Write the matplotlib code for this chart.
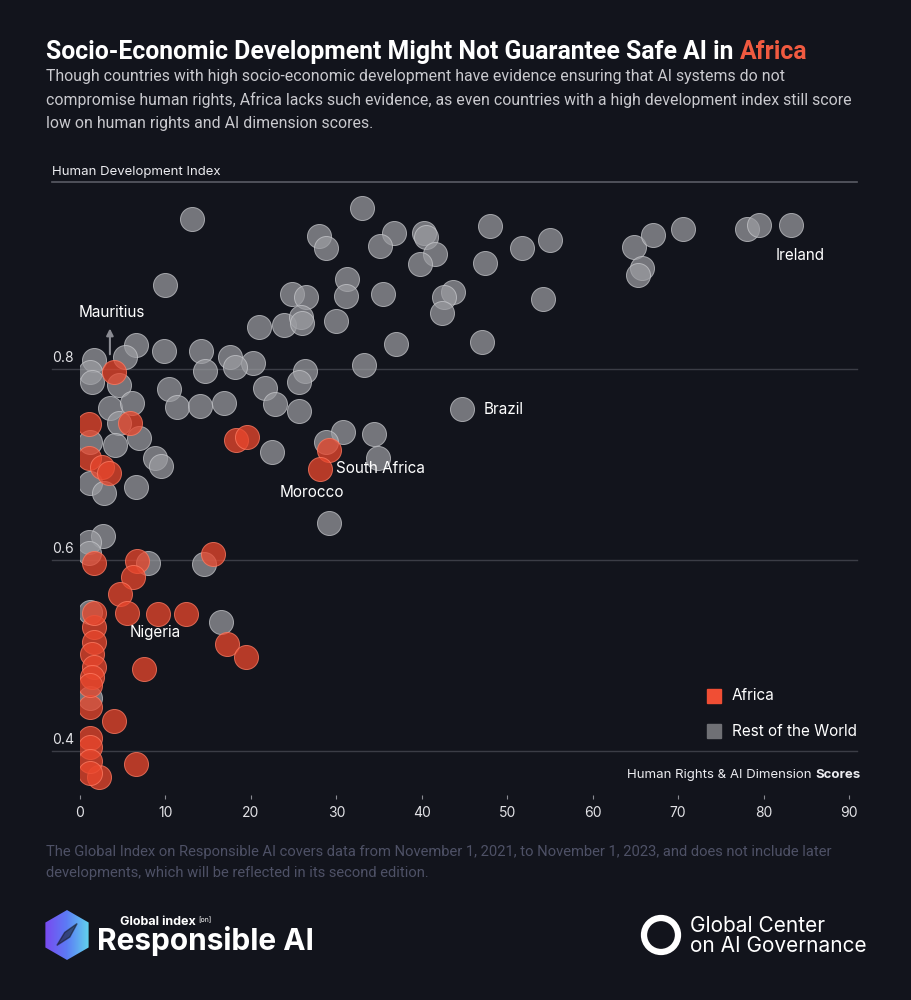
import numpy as np
import matplotlib.pyplot as plt
from matplotlib import transforms
from matplotlib.patches import Rectangle, Polygon, Ellipse
from matplotlib.colors import LinearSegmentedColormap

# x = Human Rights & AI Dimension score, y = Human Development Index
world_x = [13.1, 33.0, 9.9, 28.0, 28.8, 36.7, 35.1, 40.3, 40.5, 41.6,
           39.8, 48.0, 47.4, 31.3, 31.1, 24.8, 26.5, 35.5, 43.7, 42.6,
           42.4, 30.0, 23.9, 25.9, 26.0, 20.9, 37.0, 47.0, 33.2, 26.3,
           25.6, 20.3, 17.5, 18.1, 14.2, 14.6, 9.8, 6.5, 5.3, 1.6,
           1.2, 1.4, 4.6, 10.4, 11.4, 14.1, 16.9, 21.7, 22.8, 25.6,
           44.7, 3.5, 6.1, 4.6, 6.9, 4.1, 1.2, 8.8, 9.5, 1.2,
           2.8, 6.5, 30.8, 34.4, 28.8, 22.5, 34.9, 29.1, 2.7, 1.0,
           1.0, 7.9, 14.5, 16.5, 1.2, 1.2, 51.7, 55.0, 54.2, 64.8,
           67.0, 70.6, 65.8, 65.3, 78.0, 79.5, 83.2]
world_y = [0.956, 0.968, 0.887, 0.939, 0.926, 0.942, 0.928, 0.942, 0.938, 0.920,
           0.909, 0.949, 0.910, 0.894, 0.876, 0.878, 0.875, 0.878, 0.880, 0.875,
           0.858, 0.850, 0.846, 0.854, 0.848, 0.843, 0.826, 0.828, 0.804, 0.797,
           0.786, 0.806, 0.812, 0.802, 0.818, 0.798, 0.818, 0.825, 0.812, 0.809,
           0.796, 0.786, 0.783, 0.779, 0.760, 0.761, 0.764, 0.780, 0.763, 0.756,
           0.758, 0.759, 0.764, 0.743, 0.727, 0.720, 0.723, 0.706, 0.698, 0.680,
           0.670, 0.676, 0.734, 0.732, 0.723, 0.713, 0.707, 0.639, 0.625, 0.619,
           0.607, 0.597, 0.596, 0.535, 0.545, 0.455, 0.926, 0.935, 0.873, 0.927,
           0.940, 0.946, 0.905, 0.898, 0.946, 0.950, 0.950]

africa_x = [4.0, 1.0, 5.8, 1.0, 2.6, 3.4, 18.3, 19.5, 29.1, 28.1,
            1.6, 6.7, 6.2, 4.7, 5.5, 9.1, 12.4, 15.6, 17.2, 19.4,
            7.5, 4.0, 6.5, 2.2, 1.6, 1.6, 1.4, 1.6, 1.4, 1.2,
            1.2, 1.2, 1.2, 1.2, 1.6, 1.2]
africa_y = [0.796, 0.742, 0.743, 0.707, 0.697, 0.691, 0.725, 0.728, 0.715, 0.695,
            0.597, 0.599, 0.582, 0.564, 0.544, 0.543, 0.543, 0.606, 0.512, 0.498,
            0.486, 0.431, 0.386, 0.373, 0.530, 0.514, 0.502, 0.488, 0.477, 0.446,
            0.414, 0.404, 0.390, 0.377, 0.544, 0.469]

names = ['Ireland', 'Brazil', 'South Africa', 'Morocco', 'Nigeria']
name_x = [81.4, 47.2, 30.0, 23.4, 5.8]
name_y = [0.918, 0.757, 0.695, 0.670, 0.524]

x_ticks = [0, 10, 20, 30, 40, 50, 60, 70, 80, 90]
y_grid = [0.4, 0.6, 0.8]

BG = '#12141c'
RED = '#e9472d'
GREY = '#9b9ca1'
COND = ['Roboto', 'DejaVu Sans']
SANS = ['Inter', 'DejaVu Sans']

W, H = 912, 1000
def fx(px):
    return px / W
def fy(py):
    return 1 - py / H

fig = plt.figure(figsize=(9.12, 10), dpi=100, facecolor=BG)
ax = fig.add_axes([fx(80), fy(795), (857 - 80) / W, (795 - 177.4) / H])
ax.set_facecolor(BG)
ax.set_xlim(0.23, 90.93)
ax.set_ylim(0.354, 1.0)
for s in ax.spines.values():
    s.set_visible(False)

# grid lines run past the plot area to the left
trans = transforms.blended_transform_factory(fig.transFigure, ax.transData)
for v in y_grid:
    ax.plot([fx(52), fx(857)], [v, v], transform=trans, color='#3b3d46',
            lw=1, clip_on=False, zorder=1)
    ax.text(fx(52), v + 0.004, '%.1f' % v, transform=trans, ha='left', va='bottom',
            color='#e2e2e6', fontsize=10, family=SANS)
ax.plot([fx(52), fx(857)], [0.995, 0.995], transform=trans, color='#5a5c65',
        lw=1.2, clip_on=False, zorder=1)

ax.scatter(world_x, world_y, s=300, c=GREY, alpha=0.72, edgecolors='#c8c9cd',
           linewidths=0.7, zorder=3)
ax.scatter(africa_x, africa_y, s=300, c=RED, alpha=0.76, edgecolors='#ff7b62',
           linewidths=0.7, zorder=4)

ax.set_xticks(x_ticks)
ax.set_yticks([])
ax.tick_params(axis='x', length=3, width=0.8, color='#8a8b92', pad=5,
               labelcolor='#e2e2e6', labelsize=10)
for t in ax.get_xticklabels():
    t.set_family(SANS)

for n, x, y in zip(names, name_x, name_y):
    ax.text(x, y, n, color='white', fontsize=11, va='center', ha='left',
            family=SANS, zorder=6)
ax.text(3.7, 0.859, 'Mauritius', ha='center', va='center', color='white',
        fontsize=11, family=SANS, zorder=6)
ax.annotate('', xy=(3.5, 0.842), xytext=(3.5, 0.815),
            arrowprops=dict(arrowstyle='-|>', color='#8a8b92', lw=1.5,
                            shrinkA=0, shrinkB=0, mutation_scale=10),
            annotation_clip=False, zorder=6)

# legend
fig.patches.append(Rectangle((fx(707), fy(703)), 14 / W, 14 / H,
                             transform=fig.transFigure, color='#f04e34'))
fig.patches.append(Rectangle((fx(707), fy(738)), 14 / W, 14 / H,
                             transform=fig.transFigure, color='#6f7075'))
fig.text(fx(732), fy(696), 'Africa', color='white', fontsize=11,
         va='center', family=SANS)
fig.text(fx(732), fy(731), 'Rest of the World', color='white', fontsize=11,
         va='center', family=SANS)

# headings
title = fig.text(fx(46), fy(52), 'Socio-Economic Development Might Not Guarantee Safe AI in ',
                 color='white', fontsize=17.8, weight='bold', va='center', family=COND)
sub = ('Though countries with high socio-economic development have evidence ensuring that AI systems do not\n'
       'compromise human rights, Africa lacks such evidence, as even countries with a high development index still score\n'
       'low on human rights and AI dimension scores.')
fig.text(fx(46), fy(69), sub, color='#c9c9ce', fontsize=11.4, va='top',
         linespacing=1.62, family=COND)
fig.text(fx(52), fy(172), 'Human Development Index', color='#ececf0',
         fontsize=9.5, va='center', family=SANS)
xl_bold = fig.text(fx(861), fy(775), 'Scores', color='#ececf0', fontsize=9.5,
                   weight='bold', ha='right', va='center', family=SANS)

foot = ('The Global Index on Responsible AI covers data from November 1, 2021, to November 1, 2023, and does not include later\n'
        'developments, which will be reflected in its second edition.')
fig.text(fx(46), fy(845), foot, color='#4e5166', fontsize=10.6, va='top',
         linespacing=1.6, family=COND)

gi = fig.text(fx(120), fy(922), 'Global index', color='white', fontsize=9,
              weight='bold', va='center', family=SANS)

fig.canvas.draw()
r = fig.canvas.get_renderer()
tb = title.get_window_extent(r)
fig.text(tb.x1 / W, fy(52), 'Africa', color='#f05a40', fontsize=17.8,
         weight='bold', va='center', family=COND)
bb = xl_bold.get_window_extent(r)
fig.text(bb.x0 / W, fy(775), 'Human Rights & AI Dimension ', color='#ececf0',
         fontsize=9.5, ha='right', va='center', family=SANS)
gb = gi.get_window_extent(r)
fig.text((gb.x1 + 3) / W, fy(920), '[on]', color='white', fontsize=5,
         va='center', family=SANS)

# left logo
lax = fig.add_axes([fx(44), fy(961), 46 / W, 52 / H])
lax.axis('off')
lax.set_xlim(0, 1)
lax.set_ylim(0, 1)
cmap = LinearSegmentedColormap.from_list('logo', ['#7a48f0', '#5c7cf5', '#62d6ec'])
im = lax.imshow(np.linspace(0, 1, 64)[None, :], extent=[0, 1, 0, 1], cmap=cmap,
                aspect='auto')
hexagon = Polygon([(0.5, 0.98), (0.97, 0.74), (0.97, 0.26), (0.5, 0.02),
                   (0.03, 0.26), (0.03, 0.74)], transform=lax.transAxes)
im.set_clip_path(hexagon)
lax.add_patch(Polygon([(0.28, 0.3), (0.45, 0.55), (0.72, 0.72), (0.56, 0.46)],
                      color=BG, alpha=0.55))
fig.text(fx(97), fy(941), 'Responsible AI', color='white', fontsize=21.5,
         weight='bold', va='center', family=SANS)

# right logo
fig.patches.append(Ellipse((fx(661), fy(935)), 34 / W, 34 / H, transform=fig.transFigure,
                           fill=False, ec='white', lw=4.5))
fig.text(fx(690), fy(926), 'Global Center', color='white', fontsize=15,
         va='center', family=SANS)
fig.text(fx(690), fy(946), 'on AI Governance', color='white', fontsize=15,
         va='center', family=SANS)

fig.savefig('out.png', dpi=100, facecolor=BG)
